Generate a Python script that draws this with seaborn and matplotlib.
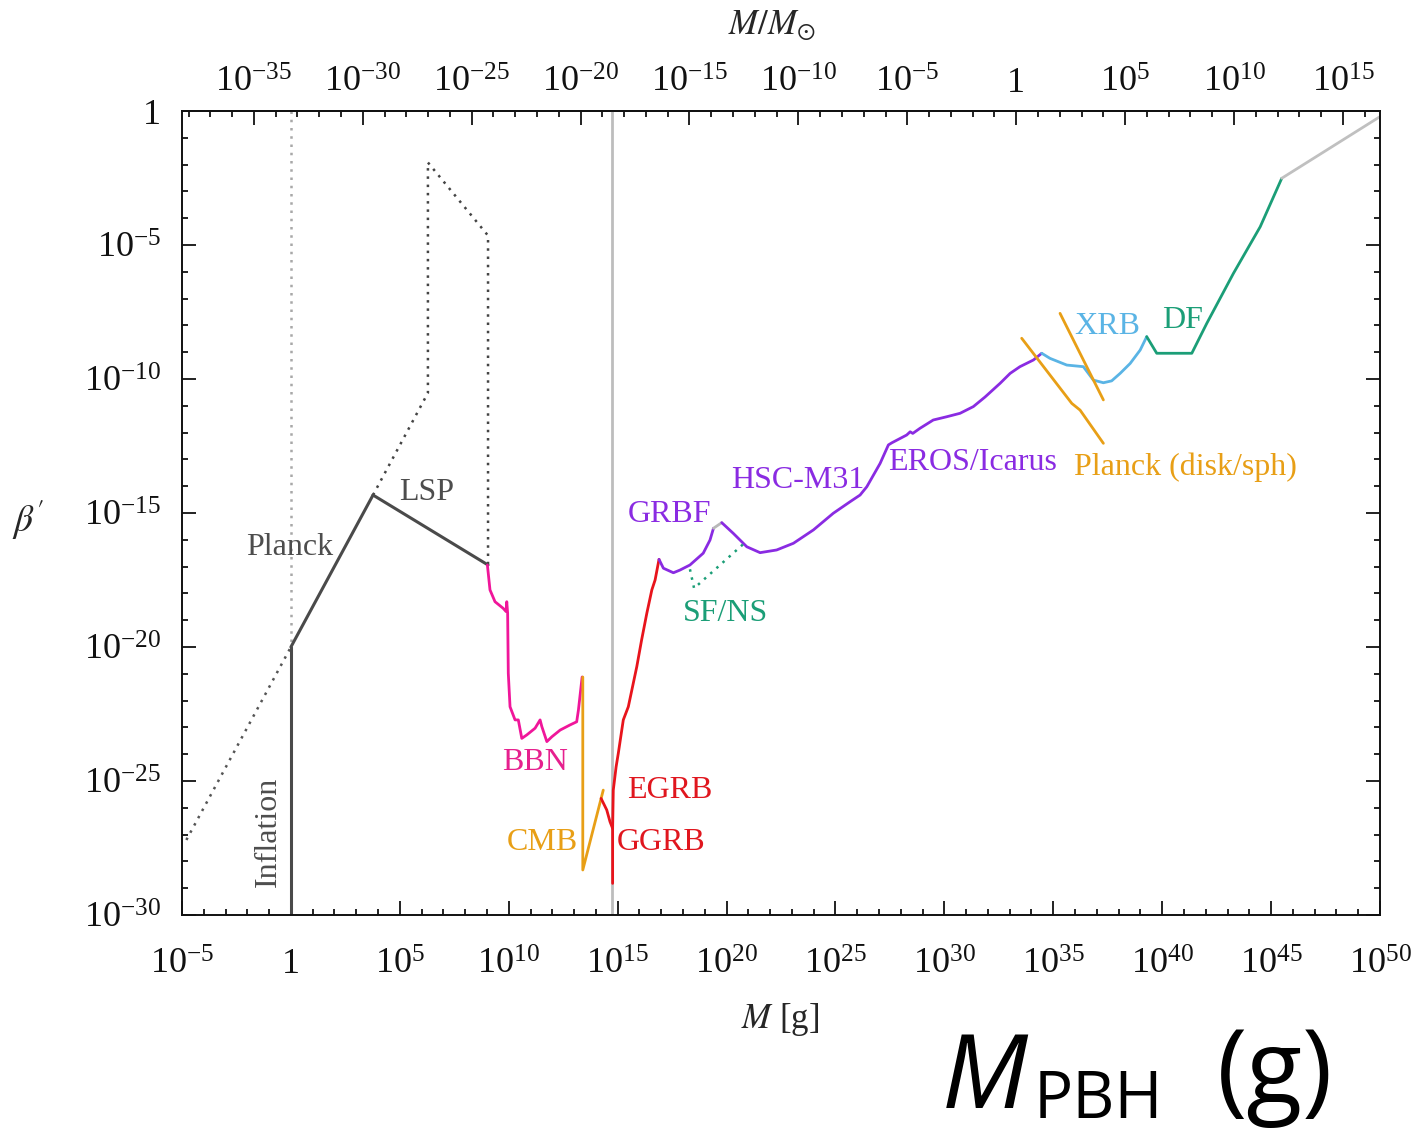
import numpy as np
import matplotlib
matplotlib.use("Agg")
import matplotlib.pyplot as plt
import matplotlib.ticker as mticker
import seaborn as sns

sns.set_style("ticks")
plt.rcParams["font.family"] = ["Liberation Serif", "DejaVu Serif"]
plt.rcParams["mathtext.fontset"] = "stix"

MSUN = 1.989e33  # solar mass in grams

# ---- constraint curves, stored as log10(M [g]) and log10(beta') ----
infl_dot_x = [-4.8, 0.0]
infl_dot_y = [-27.2, -20.0]
planck_vdot_x = [0.0, 0.0]
planck_vdot_y = [0.0, -20.0]
infl_x = [0.0, 0.0]
infl_y = [-20.0, -30.0]
planck_x = [0.0, 3.77]
planck_y = [-20.0, -14.33]
lsp_x = [3.77, 9.05]
lsp_y = [-14.33, -16.94]
lsp_dot_x = [3.77, 6.29, 6.29, 9.05, 9.05]
lsp_dot_y = [-14.33, -10.52, -1.92, -4.65, -16.94]

bbn_x = [9.02, 9.14, 9.37, 9.75, 9.88, 9.91, 9.95, 9.98, 10.06, 10.29, 10.44,
         10.60, 10.83, 11.21, 11.44, 11.52, 11.75, 11.98, 12.36, 12.81, 13.12,
         13.20, 13.37]
bbn_y = [-16.94, -17.87, -18.31, -18.56, -18.68, -18.31, -18.74, -20.98,
         -22.23, -22.72, -22.72, -23.41, -23.28, -23.03, -22.72, -22.97,
         -23.53, -23.35, -23.10, -22.91, -22.79, -22.35, -21.12]

cmb_x = [13.40, 13.40, 14.34]
cmb_y = [-21.12, -28.32, -25.34]

ggrb_x = [14.24, 14.50, 14.65, 14.77, 14.77]
ggrb_y = [-25.65, -26.08, -26.52, -26.77, -28.82]

egrb_x = [14.77, 14.80, 14.93, 15.03, 15.26, 15.49, 15.88, 16.10, 16.34,
          16.57, 16.72, 16.90]
egrb_y = [-26.77, -25.34, -24.47, -23.97, -22.72, -22.23, -20.73, -19.74,
          -18.74, -17.87, -17.50, -16.73]

grbf_x = [16.90, 17.10, 17.56, 17.86, 18.32, 18.93, 19.24, 19.40]
grbf_y = [-16.73, -17.06, -17.23, -17.13, -16.94, -16.50, -16.01, -15.57]
gap_x = [19.40, 19.78]
gap_y = [-15.57, -15.36]
lens_x = [19.78, 20.31, 20.93, 21.54, 22.30, 23.07, 23.99, 24.90, 25.67,
          26.13, 26.44, 27.05, 27.43, 27.59, 28.27, 28.43, 28.55, 28.88,
          29.49, 30.10, 30.72, 31.33, 31.87, 32.56, 33.02, 33.47, 34.09, 34.47]
lens_y = [-15.36, -15.76, -16.26, -16.48, -16.38, -16.13, -15.63, -15.01,
          -14.58, -14.33, -14.02, -13.15, -12.46, -12.38, -12.09, -11.97,
          -12.03, -11.84, -11.53, -11.41, -11.28, -11.03, -10.67, -10.16,
          -9.79, -9.54, -9.29, -9.04]

xrb_x = [34.47, 34.85, 35.62, 36.38, 36.84, 37.30, 37.68, 38.07, 38.53,
         38.99, 39.29]
xrb_y = [-9.04, -9.23, -9.48, -9.54, -10.04, -10.14, -10.07, -9.79, -9.42,
         -8.92, -8.42]

df_x = [39.29, 39.75, 41.36, 42.05, 43.27, 44.50, 45.49]
df_y = [-8.42, -9.04, -9.04, -7.92, -6.06, -4.32, -2.51]
inc_x = [45.49, 50.0]
inc_y = [-2.51, -0.21]

cmb_disk_x = [33.55, 35.85, 36.23, 37.30]
cmb_disk_y = [-8.48, -10.91, -11.16, -12.40]
cmb_sph_x = [35.31, 37.30]
cmb_sph_y = [-7.55, -10.78]

sfns_x = [18.32, 18.51, 20.77]
sfns_y = [-17.10, -17.81, -16.16]

evap_x = [14.74, 14.74]
evap_y = [0.0, -30.0]

# label text, position (log10 M, log10 beta'), colour, rotation
labels = [
    ("Planck", -0.05, -16.3, "#4d4d4d", 0),
    ("LSP", 6.25, -14.25, "#4d4d4d", 0),
    ("Inflation", -1.05, -26.9, "#4d4d4d", 90),
    ("BBN", 11.2, -24.3, "#e6208e", 0),
    ("CMB", 11.55, -27.3, "#e89f16", 0),
    ("EGRB", 17.4, -25.35, "#e0161e", 0),
    ("GGRB", 17.0, -27.3, "#e0161e", 0),
    ("GRBF", 17.4, -15.05, "#8a2be2", 0),
    ("SF/NS", 19.93, -18.75, "#1b9e77", 0),
    ("HSC-M31", 23.25, -13.8, "#8a2be2", 0),
    ("EROS/Icarus", 31.3, -13.1, "#8a2be2", 0),
    ("Planck (disk/sph)", 41.05, -13.3, "#e89f16", 0),
    ("XRB", 37.5, -8.05, "#5ab4e5", 0),
    ("DF", 40.95, -7.8, "#1b9e77", 0),
]

fig = plt.figure(figsize=(14.18, 11.40), dpi=100)
ax = fig.add_axes([182 / 1418, 1 - 915 / 1140, 1198 / 1418, 804 / 1140])
ax.set_xscale("log")
ax.set_yscale("log")

DOT = (0, (1, 2.3))


def curve(xs, ys, color, ls="-", lw=2.0):
    sns.lineplot(x=10.0 ** np.asarray(xs, float), y=10.0 ** np.asarray(ys, float),
                 ax=ax, color=color, linestyle=ls, linewidth=lw, sort=False,
                 estimator=None, legend=False)


curve(evap_x, evap_y, "#bdbdbd", lw=2.0)
curve(planck_vdot_x, planck_vdot_y, "#a8a8a8", DOT, lw=1.8)
curve(infl_dot_x, infl_dot_y, "#555555", DOT, lw=1.8)
curve(lsp_dot_x, lsp_dot_y, "#444444", DOT, lw=1.8)
curve(infl_x, infl_y, "#4a4a4a", lw=2.2)
curve(planck_x, planck_y, "#4a4a4a", lw=2.2)
curve(lsp_x, lsp_y, "#4a4a4a", lw=2.2)
curve(bbn_x, bbn_y, "#f0169a")
curve(cmb_x, cmb_y, "#e89f16")
curve(ggrb_x, ggrb_y, "#e8141c")
curve(egrb_x, egrb_y, "#e8141c")
curve(grbf_x, grbf_y, "#8a2be2")
curve(gap_x, gap_y, "#b8b8b8")
curve(lens_x, lens_y, "#8a2be2")
curve(xrb_x, xrb_y, "#5ab4e5")
curve(df_x, df_y, "#1b9e77")
curve(inc_x, inc_y, "#c0c0c0")
curve(cmb_disk_x, cmb_disk_y, "#e89f16")
curve(cmb_sph_x, cmb_sph_y, "#e89f16")
curve(sfns_x, sfns_y, "#1b9e77", DOT, lw=1.8)

for txt, lx, ly, col, rot in labels:
    ax.text(10.0 ** lx, 10.0 ** ly, txt, color=col, fontsize=23, rotation=rot,
            ha="center", va="center")

ax.set_xlim(1e-5, 1e50)
ax.set_ylim(1e-30, 1)


def pow_fmt(v, pos):
    e = int(round(np.log10(v)))
    if e == 0:
        return "1"
    return r"$\mathdefault{10^{%d}}$" % e


x_major = [10.0 ** e for e in range(-5, 51, 5)]
x_minor = [10.0 ** e for e in range(-5, 51)]
y_major = [10.0 ** e for e in range(-30, 1, 5)]
y_minor = [10.0 ** e for e in range(-30, 1)]
top_major = [10.0 ** e for e in range(-35, 16, 5)]
top_minor = [10.0 ** e for e in range(-38, 18)]

ax.xaxis.set_major_locator(mticker.FixedLocator(x_major))
ax.xaxis.set_minor_locator(mticker.FixedLocator(x_minor))
ax.yaxis.set_major_locator(mticker.FixedLocator(y_major))
ax.yaxis.set_minor_locator(mticker.FixedLocator(y_minor))
ax.xaxis.set_major_formatter(mticker.FuncFormatter(pow_fmt))
ax.yaxis.set_major_formatter(mticker.FuncFormatter(pow_fmt))
ax.xaxis.set_minor_formatter(mticker.NullFormatter())
ax.yaxis.set_minor_formatter(mticker.NullFormatter())

ax.tick_params(which="both", direction="in", width=1.3, colors="#111111",
               labelsize=26, right=True, top=False)
ax.tick_params(axis="x", which="major", length=10, pad=42)
ax.tick_params(axis="y", which="major", length=10, pad=15)
ax.tick_params(which="minor", length=4.5)
# bottom labels share a common baseline
for t in ax.xaxis.get_major_ticks(len(x_major)):
    t.label1.set_va("baseline")
for sp in ax.spines.values():
    sp.set_linewidth(1.4)
    sp.set_color("#111111")

secax = ax.secondary_xaxis("top", functions=(lambda m: m / MSUN,
                                             lambda r: r * MSUN))
secax.xaxis.set_major_locator(mticker.FixedLocator(top_major))
secax.xaxis.set_minor_locator(mticker.FixedLocator(top_minor))
secax.xaxis.set_major_formatter(mticker.FuncFormatter(pow_fmt))
secax.xaxis.set_minor_formatter(mticker.NullFormatter())
secax.tick_params(which="both", direction="in", width=1.3, colors="#111111",
                  labelsize=26)
secax.tick_params(which="major", length=10, pad=14)
secax.tick_params(which="minor", length=4.5)
for t in secax.xaxis.get_major_ticks(len(top_major)):
    t.label2.set_va("baseline")
secax.spines["top"].set_linewidth(1.4)

# top-axis title (solar-mass units)
fig.text(772 / 1418, 1 - 34 / 1140, r"$M/M_{\odot}$", fontsize=25,
         ha="center", va="baseline")

ax.set_xlabel(r"$M$ [g]", fontsize=25)
ax.xaxis.set_label_coords(0.499, -0.1305)
ax.xaxis.label.set_va("center")

ax.set_ylabel(r"$\beta'$", fontsize=27, rotation=0)
ax.yaxis.set_label_coords(-0.128, 0.491)
ax.yaxis.label.set_va("center")
ax.yaxis.label.set_ha("center")

# handwritten-style annotation under the axis
fig.text(985 / 1418, 1 - 1108 / 1140, "M", fontsize=74, style="italic",
         family="Open Sans", ha="center", va="baseline", color="black")
fig.text(1098 / 1418, 1 - 1118 / 1140, "PBH", fontsize=47,
         family="Open Sans", ha="center", va="baseline", color="black")
fig.text(1275 / 1418, 1 - 1076 / 1140, "(g)", fontsize=74,
         family="Open Sans", ha="center", va="center", color="black")

fig.savefig("out.png", dpi=100)
